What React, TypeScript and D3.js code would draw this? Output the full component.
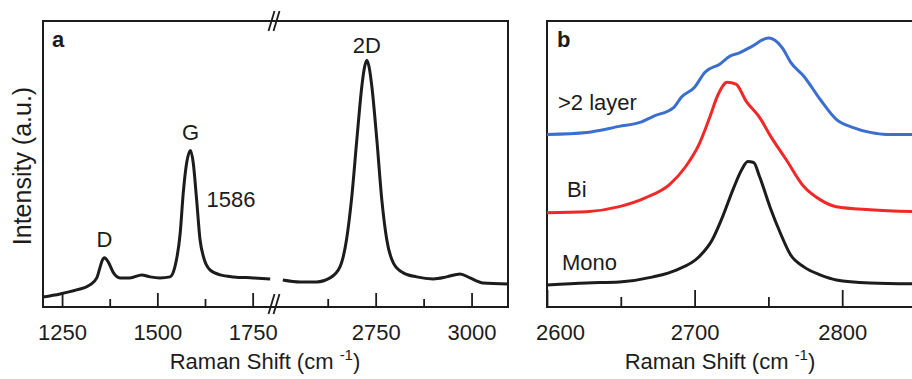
import React, { Component } from "react";
import * as d3 from "d3";

// panel a, below the axis break (Raman shift in cm-1, intensity in a.u.)
const shiftLow = [1200, 1245, 1288, 1323, 1341, 1350, 1356, 1361, 1371, 1385, 1402, 1428, 1459, 1481, 1507, 1533, 1546, 1560, 1568, 1577, 1587, 1594, 1603, 1612, 1621, 1638, 1665, 1700, 1752, 1796];
const intensityLow = [10, 13, 17, 22, 29, 40, 47, 49, 45, 34, 29, 29, 32, 30, 29, 30, 40, 74, 114, 144, 156, 144, 107, 67, 50, 37, 32, 30, 29, 28];

// panel a, above the axis break
const shiftHigh = [2508, 2553, 2596, 2631, 2657, 2674, 2687, 2701, 2714, 2720, 2727, 2734, 2740, 2753, 2766, 2779, 2796, 2822, 2857, 2900, 2935, 2970, 2996, 3030, 3095];
const intensityHigh = [27, 25, 25, 29, 40, 67, 107, 167, 220, 237, 246, 237, 220, 167, 107, 67, 44, 34, 30, 28, 30, 33, 29, 24, 23];

// panel b, 2D band for each thickness
const monoShift = [2600, 2627, 2649, 2672, 2688, 2703, 2712, 2719, 2726, 2732, 2736, 2740, 2744, 2751, 2758, 2765, 2774, 2785, 2796, 2819, 2850];
const monoIntensity = [22, 24, 25, 30, 37, 50, 67, 90, 117, 137, 145, 144, 130, 100, 74, 52, 40, 32, 27, 24, 23];
const biShift = [2600, 2627, 2649, 2667, 2683, 2694, 2703, 2710, 2716, 2722, 2728, 2735, 2744, 2752, 2762, 2774, 2785, 2796, 2819, 2850];
const biIntensity = [94, 95, 100, 109, 122, 140, 162, 188, 212, 224, 222, 205, 189, 169, 147, 120, 107, 100, 97, 95];
const multiShift = [2600, 2627, 2649, 2663, 2672, 2686, 2691, 2700, 2707, 2717, 2724, 2730, 2738, 2750, 2753, 2760, 2765, 2774, 2785, 2796, 2807, 2819, 2830, 2850];
const multiIntensity = [172, 174, 180, 184, 190, 199, 209, 219, 234, 242, 250, 253, 259, 268, 267, 257, 244, 230, 207, 187, 179, 174, 172, 172];

const lowMajor = [1250, 1500, 1750];
const lowMinor = [1375, 1625];
const highMajor = [2750, 3000];
const highMinor = [2625, 2875];
const bMajor = [2600, 2700, 2800];
const bMinor = [2650, 2750];

const FONT = "'Liberation Sans', Arial, Helvetica, sans-serif";
const INK = "#1c1c1c";

export default class App extends Component {
    svgRef = React.createRef<SVGSVGElement>();

    componentDidMount() {
        this.renderChart();
    }

    renderChart() {
        const svg = d3.select(this.svgRef.current);
        svg.selectAll("*").remove();

        const top = 21, bottom = 307;
        const y = d3.scaleLinear().domain([0, 285]).range([bottom, top]);
        const xLow = d3.scaleLinear().domain([1200, 1806]).range([43, 274]);
        const xHigh = d3.scaleLinear().domain([2485, 3095]).range([274, 508]);
        const xB = d3.scaleLinear().domain([2600, 2850]).range([547, 916]);

        const line = (xs: number[], x: d3.ScaleLinear<number, number>) =>
            d3.line<number>()
                .x((d, i) => x(xs[i]))
                .y(d => y(d))
                .curve(d3.curveMonotoneX);

        const axis = (x: d3.ScaleLinear<number, number>, major: number[], minor: number[], majorLen: number, minorLen: number) => {
            const g = svg.append("g").attr("transform", `translate(0,${bottom})`);
            g.append("g")
                .call(d3.axisBottom(x).tickValues(minor).tickSize(-minorLen).tickFormat(() => ""))
                .call(s => s.select(".domain").remove());
            g.append("g")
                .call(d3.axisBottom(x).tickValues(major).tickSize(-majorLen).tickPadding(17).tickFormat(d3.format("d")))
                .call(s => s.select(".domain").remove());
            g.selectAll(".tick line").attr("stroke", INK).attr("stroke-width", 1.8);
            g.selectAll(".tick text")
                .attr("fill", INK)
                .style("font-family", FONT)
                .style("font-size", "22px");
            return g;
        };

        // ---- panel a ----
        svg.append("rect")
            .attr("x", 43).attr("y", top)
            .attr("width", 508 - 43).attr("height", bottom - top)
            .attr("fill", "none").attr("stroke", INK).attr("stroke-width", 2);

        axis(xLow, lowMajor, lowMinor, 14, 8);
        axis(xHigh, highMajor, highMinor, 14, 8);

        svg.append("path")
            .attr("d", line(shiftLow, xLow)(intensityLow))
            .attr("fill", "none").attr("stroke", INK).attr("stroke-width", 3);
        svg.append("path")
            .attr("d", line(shiftHigh, xHigh)(intensityHigh))
            .attr("fill", "none").attr("stroke", INK).attr("stroke-width", 3);

        // axis break marks
        const bx = xLow(1806);
        [[top - 10, top + 10], [bottom - 13, bottom + 7]].forEach(([y1, y2]) => {
            [-2.5, 2.5].forEach(off => {
                svg.append("line")
                    .attr("x1", bx + off - 3).attr("y1", y2)
                    .attr("x2", bx + off + 3).attr("y2", y1)
                    .attr("stroke", INK).attr("stroke-width", 1.8);
            });
        });

        // ---- panel b ----
        svg.append("rect")
            .attr("x", 547).attr("y", top)
            .attr("width", 916 - 547).attr("height", bottom - top)
            .attr("fill", "none").attr("stroke", INK).attr("stroke-width", 2);

        const gb = axis(xB, bMajor, bMinor, 17, 10);
        gb.selectAll<SVGTextElement, number>(".tick text").filter(d => d === 2600).attr("dx", 13);

        const series = [
            { xs: multiShift, vs: multiIntensity, color: "#3a6fcf" },
            { xs: biShift, vs: biIntensity, color: "#f02828" },
            { xs: monoShift, vs: monoIntensity, color: INK },
        ];
        series.forEach(s => {
            svg.append("path")
                .attr("d", line(s.xs, xB)(s.vs))
                .attr("fill", "none").attr("stroke", s.color).attr("stroke-width", 3);
        });

        // ---- text ----
        const text = (x: number, yy: number, str: string, size = 22, weight = "normal", anchor = "middle") =>
            svg.append("text")
                .attr("x", x).attr("y", yy)
                .attr("text-anchor", anchor)
                .attr("fill", INK)
                .style("font-family", FONT)
                .style("font-size", size + "px")
                .style("font-weight", weight)
                .text(str);

        text(52, 47, "a", 22, "bold", "start");
        text(557, 47, "b", 22, "bold", "start");
        text(xLow(1361), 247, "D");
        text(xLow(1587), 140, "G");
        text(231, 207, "1586");
        text(xHigh(2727), 53, "2D");
        text(558, 110, ">2 layer", 22, "normal", "start");
        text(567, 197, "Bi", 22, "normal", "start");
        text(562, 270, "Mono", 22, "normal", "start");

        svg.append("text")
            .attr("transform", "translate(31,166) rotate(-90)")
            .attr("text-anchor", "middle")
            .attr("fill", INK)
            .style("font-family", FONT)
            .style("font-size", "25px")
            .text("Intensity (a.u.)");

        [265, 720].forEach(cx => {
            const t = svg.append("text")
                .attr("x", cx).attr("y", 369)
                .attr("text-anchor", "middle")
                .attr("fill", INK)
                .style("font-family", FONT)
                .style("font-size", "22px");
            t.append("tspan").text("Raman Shift (cm ");
            t.append("tspan").attr("dy", -9).style("font-size", "15px").text("-1");
            t.append("tspan").attr("dy", 9).text(")");
        });
    }

    render() {
        return (
            <svg
                ref={this.svgRef}
                width={912}
                height={379}
                style={{ position: "absolute", left: 0, top: 0, background: "#fff" }}
            />
        );
    }
}
